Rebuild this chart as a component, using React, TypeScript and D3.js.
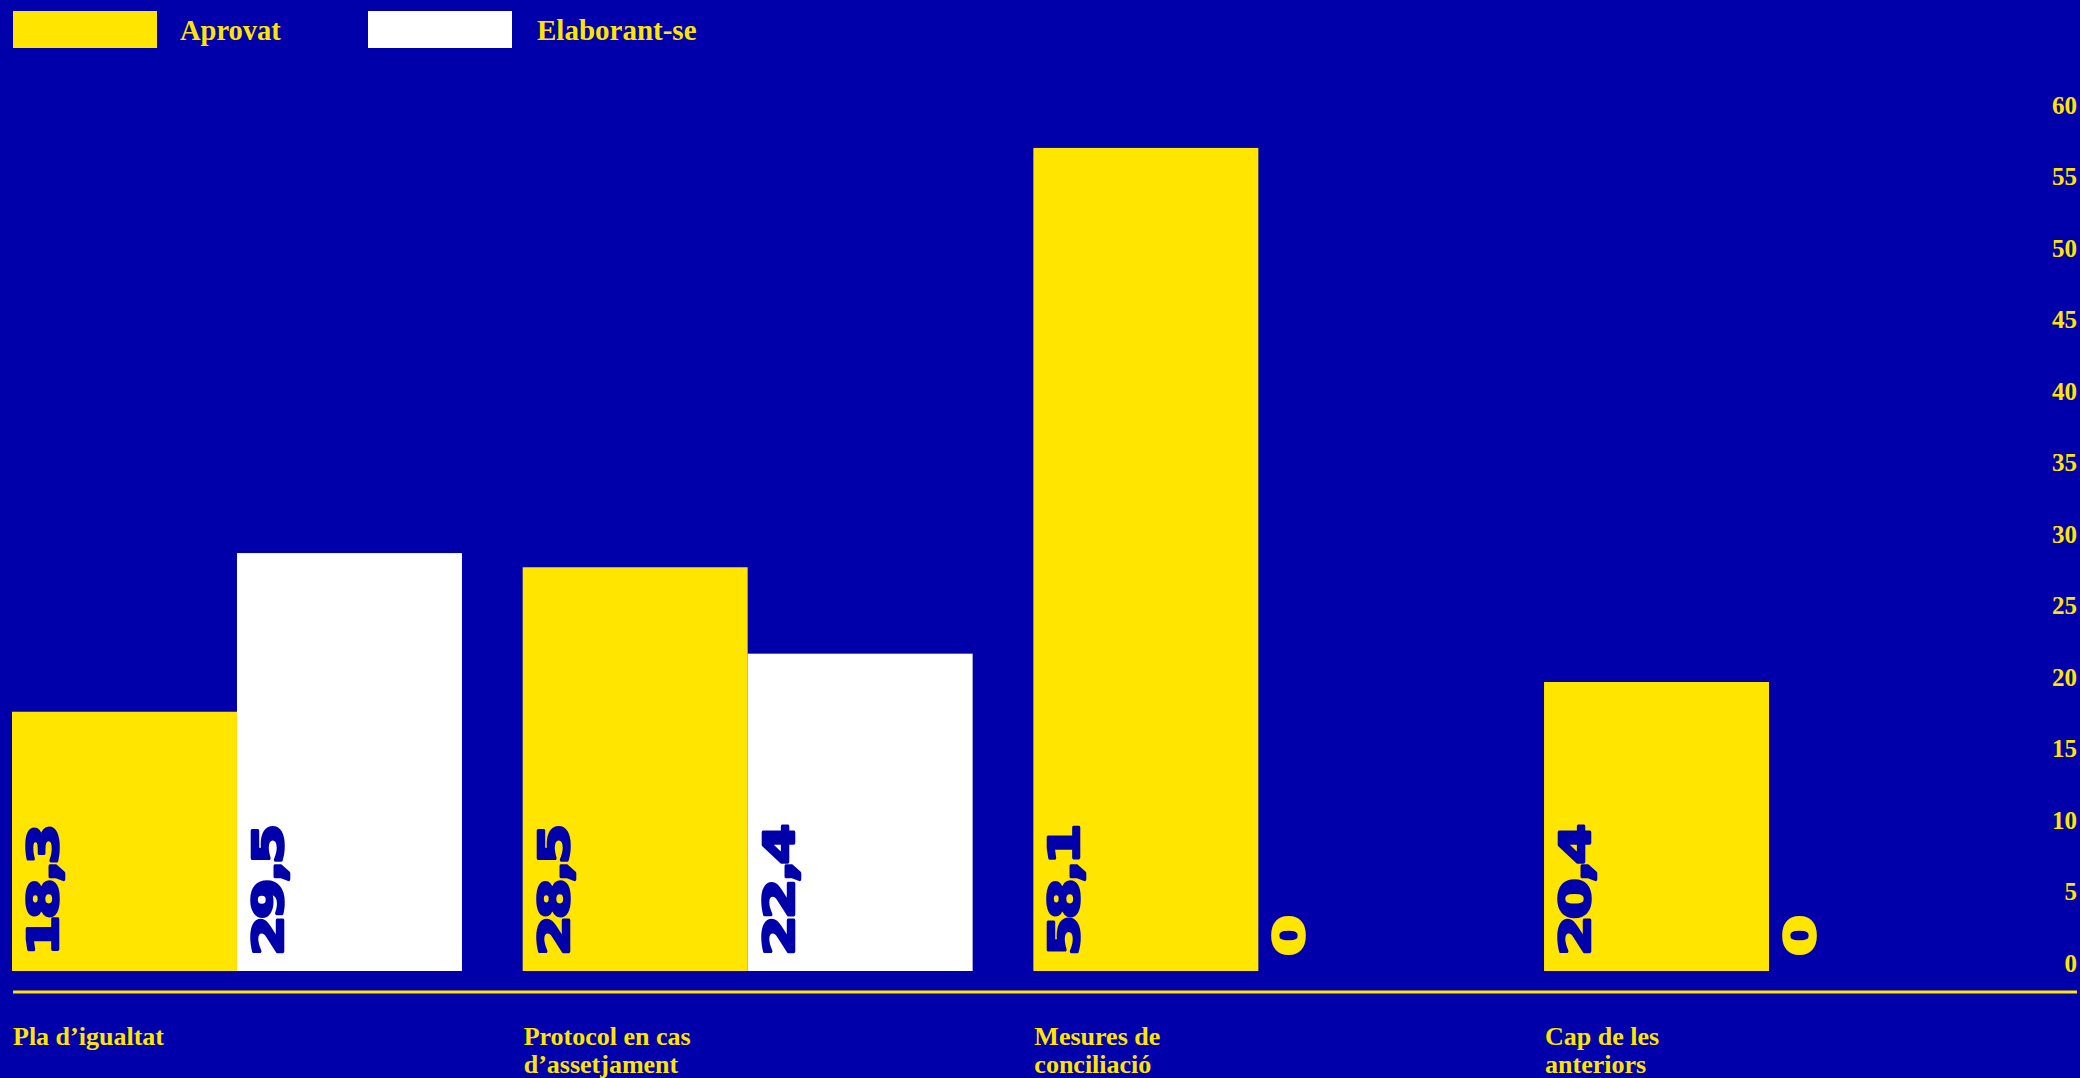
import React from "react";
import * as d3 from "d3";

const categories = ["Pla d’igualtat", "Protocol en cas d’assetjament", "Mesures de conciliació", "Cap de les anteriors"];
const categoryLines = [["Pla d’igualtat"], ["Protocol en cas", "d’assetjament"], ["Mesures de", "conciliació"], ["Cap de les", "anteriors"]];
const seriesNames = ["Aprovat", "Elaborant-se"];
const aprovat = [18.3, 28.5, 58.1, 20.4];
const elaborant = [29.5, 22.4, 0, 0];
const tickValues = [0, 5, 10, 15, 20, 25, 30, 35, 40, 45, 50, 55, 60];

const W = 2080;
const H = 1078;
const BG = "#0000AA";
const YELLOW = "#FFE500";
const WHITE = "#FFFFFF";
const seriesColors = [YELLOW, WHITE];
const SERIF = "'Liberation Serif', 'Times New Roman', serif";
const SANS = "'DejaVu Sans', sans-serif";

export default function App() {
  const y = d3.scaleLinear().domain([0, 60]).range([971, 121]);
  const yAxis = d3.scaleLinear().domain([0, 60]).range([963, 105]);
  const x0 = d3.scaleBand<string>().domain(categories).range([12, 1994]).paddingInner(0.1189).paddingOuter(0);
  const x1 = d3.scaleBand<string>().domain(seriesNames).range([0, x0.bandwidth()]).padding(0);
  const fmt = (v: number) => (v === 0 ? "0" : d3.format(".1f")(v).replace(".", ","));

  const rows = categories.map((c, i) => ({ c, vals: [aprovat[i], elaborant[i]] }));

  return (
    <svg width={W} height={H} style={{ position: "absolute", left: 0, top: 0, display: "block" }}>
      <rect x={0} y={0} width={W} height={H} fill={BG} />
      {/* legend */}
      <g>
        <rect x={13} y={11} width={144} height={37} fill={YELLOW} />
        <text x={180} y={40} fill={YELLOW} fontFamily={SERIF} fontWeight="bold" fontSize={28.5}>{seriesNames[0]}</text>
        <rect x={368} y={11} width={144} height={37} fill={WHITE} />
        <text x={537} y={40} fill={YELLOW} fontFamily={SERIF} fontWeight="bold" fontSize={29}>{seriesNames[1]}</text>
      </g>
      {/* bars */}
      {rows.map((r) => (
        <g key={r.c} transform={`translate(${x0(r.c)},0)`}>
          {r.vals.map((v, j) => (
            <rect key={j} x={x1(seriesNames[j])} y={y(v)} width={x1.bandwidth()} height={y(0) - y(v)} fill={seriesColors[j]} />
          ))}
          {r.vals.map((v, j) => (
            <text
              key={"t" + j}
              transform={`translate(${(x1(seriesNames[j]) as number) + 46},${y(0) - 15}) rotate(-90) scale(1.4,1)`}
              fill={v === 0 ? YELLOW : BG}
              stroke={v === 0 ? YELLOW : BG}
              strokeWidth={2.6}
              strokeLinejoin="round"
              fontFamily={SANS}
              fontWeight="bold"
              fontSize={42}
              letterSpacing={-3}
            >
              {fmt(v)}
            </text>
          ))}
        </g>
      ))}
      {/* baseline */}
      <line x1={13} x2={2077} y1={992} y2={992} stroke={YELLOW} strokeWidth={3} />
      {/* y axis labels */}
      {tickValues.map((t) => (
        <text key={t} x={2077} y={yAxis(t)} textAnchor="end" dominantBaseline="central" fill={YELLOW} fontFamily={SERIF} fontWeight="bold" fontSize={25}>
          {t}
        </text>
      ))}
      {/* category labels */}
      {categories.map((c, i) => (
        <text key={c} x={(x0(c) as number) + 1} y={1045} fill={YELLOW} fontFamily={SERIF} fontWeight="bold" fontSize={26}>
          {categoryLines[i].map((l, k) => (
            <tspan key={k} x={(x0(c) as number) + 1} dy={k === 0 ? 0 : 28}>{l}</tspan>
          ))}
        </text>
      ))}
    </svg>
  );
}
